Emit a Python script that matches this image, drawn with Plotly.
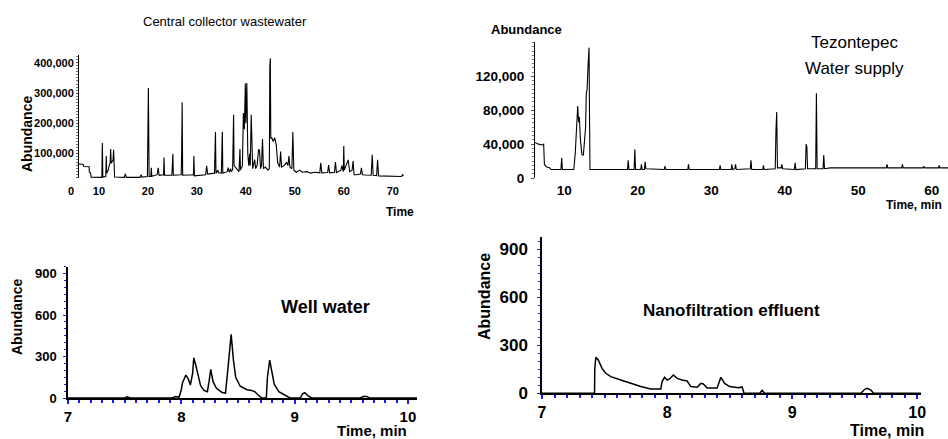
import plotly.graph_objects as go

W, H = 948, 439

# ---------------- data ----------------
# Panel 1: Central collector wastewater (time in min, abundance)
ccw_time = [5.7, 6.8, 6.9, 8.0, 8.05, 8.3, 8.4, 10.6, 10.7, 10.8, 11.4, 11.5, 11.6, 11.9, 12.1, 12.3, 12.4,
            12.5, 12.8, 12.9, 13.0, 13.1, 13.2, 15.2, 15.4, 15.6, 18.4, 18.6, 18.8, 19.9, 20.0, 20.1, 20.25,
            20.6, 20.7, 20.8, 21.9, 22.1, 22.3, 23.2, 23.3, 23.4, 24.9, 25.1, 25.2, 26.8, 26.9, 27.0, 27.1,
            29.3, 29.4, 29.5, 31.8, 32.0, 32.2, 33.6, 33.8, 33.9, 34.3, 34.4, 35.0, 35.2, 35.3, 36.2, 36.4,
            36.6, 36.9, 37.0, 37.3, 37.5, 37.6, 38.6, 38.8, 38.9, 39.3, 39.5, 39.7, 39.9, 40.0, 40.2, 40.4,
            40.6, 40.8, 40.9, 41.1, 41.2, 41.4, 41.8, 42.0, 42.3, 42.6, 42.8, 43.0, 43.2, 43.4, 43.6, 44.0,
            44.5, 44.8, 44.9, 45.0, 45.1, 45.3, 45.6, 45.9, 46.2, 46.5, 46.9, 47.1, 47.3, 47.8, 48.3, 48.6,
            48.8, 49.0, 49.4, 49.6, 49.8, 50.3, 51.0, 51.5, 52.5, 53.2, 54.0, 55.1, 55.3, 55.5, 56.7, 56.9,
            57.1, 58.1, 58.3, 58.5, 59.4, 59.6, 59.9, 60.0, 60.1, 60.5, 60.9, 61.2, 61.7, 61.9, 62.1, 62.6,
            63.4, 63.6, 63.8, 64.5, 65.6, 65.8, 66.0, 66.7, 66.9, 67.1, 68.0, 70.0, 71.8, 72.0, 72.2]
ccw_abund = [66000, 64000, 57000, 56000, 38000, 36000, 22000, 21000, 135000, 22000, 24000, 92000, 35000,
             45000, 60000, 70000, 115000, 68000, 75000, 80000, 112000, 85000, 22000, 21000, 33000, 21000,
             21000, 30000, 22000, 24000, 200000, 317000, 24000, 25000, 53000, 25000, 30000, 53000, 28000,
             30000, 87000, 28000, 28000, 99000, 28000, 30000, 105000, 270000, 28000, 30000, 92000, 26000,
             30000, 59000, 32000, 35000, 171000, 35000, 45000, 36000, 35000, 172000, 35000, 40000, 53000,
             38000, 50000, 40000, 45000, 228000, 60000, 40000, 115000, 45000, 60000, 234000, 180000,
             332000, 200000, 333000, 100000, 60000, 100000, 60000, 228000, 180000, 50000, 80000, 50000,
             60000, 114000, 110000, 50000, 60000, 148000, 50000, 55000, 45000, 50000, 390000, 415000,
             150000, 152000, 140000, 152000, 130000, 70000, 55000, 107000, 55000, 60000, 70000, 60000,
             92000, 55000, 50000, 171000, 45000, 38000, 45000, 38000, 40000, 35000, 38000, 36000, 69000,
             36000, 37000, 62000, 36000, 38000, 72000, 37000, 45000, 60000, 40000, 125000, 45000, 60000,
             79000, 40000, 45000, 75000, 30000, 30000, 32000, 53000, 30000, 29000, 28000, 96000, 28000,
             27000, 79000, 26000, 26000, 25000, 24000, 30000, 26000]
ccw_xticks = [4.3, 10, 20, 30, 40, 50, 60, 70]
ccw_xtext = ["0", "10", "20", "30", "40", "50", "60", "70"]
ccw_yticks = [100000, 200000, 300000, 400000]
ccw_ytext = ["100,000", "200,000", "300,000", "400,000"]

# Panel 2: Tezontepec water supply
tez_time = [6.0, 6.5, 7.0, 7.2, 7.3, 7.6, 8.0, 8.2, 9.55, 9.65, 9.75, 11.3, 11.5, 11.7, 11.83, 11.95, 12.05,
            12.2, 12.4, 12.6, 12.7, 12.8, 12.9, 13.0, 13.1, 13.25, 13.37, 13.45, 13.5, 18.6, 18.7, 18.8,
            19.5, 19.6, 19.7, 20.4, 20.5, 20.6, 20.9, 21.0, 21.1, 23.6, 23.7, 23.8, 26.8, 26.9, 27.0, 31.1,
            31.2, 31.3, 32.7, 32.8, 32.9, 33.2, 33.3, 33.4, 35.3, 35.4, 35.5, 37.0, 37.1, 37.2, 38.7, 38.8,
            38.9, 39.0, 39.5, 39.6, 39.7, 41.3, 41.4, 41.5, 42.8, 42.9, 43.0, 43.1, 44.2, 44.3, 44.4, 45.2,
            45.3, 45.4, 46.2, 53.8, 53.9, 54.0, 55.9, 56.0, 56.1, 58.8, 58.9, 59.0, 60.9, 61.0, 61.1, 62.2]
tez_abund = [42000, 40000, 39000, 40000, 16000, 13000, 12000, 10000, 10000, 24000, 10000, 10000, 30000,
             70000, 85000, 66000, 72000, 45000, 28000, 27000, 40000, 50000, 60000, 100000, 104000, 135000,
             154000, 60000, 10000, 10000, 21000, 10000, 10000, 34000, 10000, 10000, 16000, 10000, 10000,
             19000, 11000, 10000, 14000, 10000, 10000, 16000, 10000, 10000, 15000, 10000, 10000, 16000,
             10000, 11000, 16000, 10000, 11000, 21000, 10000, 10000, 15000, 10000, 11000, 57000, 78000,
             12000, 12000, 16000, 11000, 10000, 18000, 10000, 11000, 40000, 37000, 11000, 11000, 100000,
             11000, 11000, 27000, 11000, 12000, 12000, 16000, 12000, 12000, 16000, 12000, 12000, 14000,
             12000, 12000, 15000, 12000, 12000]
tez_xticks = [10, 20, 30, 40, 50, 60]
tez_yticks = [0, 40000, 80000, 120000]
tez_ytext = ["0", "40,000", "80,000", "120,000"]

# Panel 3: Well water
well_time = [7.0, 7.5, 7.52, 7.55, 7.92, 7.95, 7.98, 8.0, 8.01, 8.04, 8.06, 8.08, 8.1, 8.11, 8.13, 8.15, 8.17,
             8.2, 8.23, 8.245, 8.26, 8.28, 8.31, 8.36, 8.39, 8.41, 8.43, 8.44, 8.46, 8.48, 8.52, 8.58, 8.62,
             8.65, 8.68, 8.71, 8.75, 8.76, 8.78, 8.8, 8.82, 8.86, 8.92, 8.96, 9.05, 9.07, 9.09, 9.12, 9.15,
             9.58, 9.61, 9.64, 9.66, 10.08]
well_abund = [0, 0, 8, 0, 0, 10, 5, 60, 108, 166, 140, 94, 180, 291, 230, 150, 90, 55, 46, 120, 207, 118, 70,
              40, 36, 200, 400, 460, 274, 150, 85, 60, 55, 45, 20, 0, 0, 150, 274, 180, 100, 45, 15, 0, 0, 30,
              38, 15, 0, 0, 12, 10, 0, 0]

# Panel 4: Nanofiltration effluent
nano_time = [7.0, 7.42, 7.422, 7.43, 7.45, 7.48, 7.51, 7.55, 7.63, 7.71, 7.79, 7.87, 7.95, 7.96, 7.98, 8.0,
             8.02, 8.05, 8.08, 8.12, 8.16, 8.19, 8.24, 8.27, 8.29, 8.32, 8.40, 8.43, 8.46, 8.5, 8.57, 8.6,
             8.615, 8.74, 8.76, 8.78, 9.55, 9.58, 9.6, 9.63, 9.65, 10.03]
nano_abund = [0, 0, 150, 225, 208, 156, 125, 104, 83, 62, 42, 27, 27, 73, 100, 83, 90, 114, 93, 83, 77, 42,
              38, 62, 58, 33, 33, 100, 62, 42, 35, 40, 0, 0, 18, 0, 0, 25, 31, 20, 0, 0]

min_ticks = [7, 8, 9, 10]
abund_ticks = [0, 300, 600, 900]

# ---------------- styling ----------------
ARIAL = "Liberation Sans, Arial, Helvetica, sans-serif"
BLUE = "#1a1aff"


def px(x):
    return x / W


def py(y):
    return 1 - y / H


fig = go.Figure()
fig.add_trace(go.Scatter(x=ccw_time, y=ccw_abund, mode="lines", line=dict(color="black", width=1.1),
                         xaxis="x", yaxis="y", showlegend=False, hoverinfo="skip"))
fig.add_trace(go.Scatter(x=tez_time, y=tez_abund, mode="lines", line=dict(color="black", width=1.1),
                         xaxis="x2", yaxis="y2", showlegend=False, hoverinfo="skip"))
fig.add_trace(go.Scatter(x=well_time, y=well_abund, mode="lines", line=dict(color="black", width=1.5),
                         xaxis="x3", yaxis="y3", showlegend=False, hoverinfo="skip"))
fig.add_trace(go.Scatter(x=nano_time, y=nano_abund, mode="lines", line=dict(color="black", width=1.5),
                         xaxis="x4", yaxis="y4", showlegend=False, hoverinfo="skip"))

common = dict(showgrid=False, zeroline=False, fixedrange=True, automargin=False)


def tf(size):
    return dict(family=ARIAL, size=size, color="black", weight="bold")


fig.update_layout(
    width=W, height=H, margin=dict(l=0, r=0, t=0, b=0, pad=0, autoexpand=False),
    paper_bgcolor="white", plot_bgcolor="white", showlegend=False,
    # panel 1
    xaxis=dict(domain=[px(71), px(405)], range=[4.3, 72.5], anchor="y", showline=False, ticks="",
               tickvals=ccw_xticks, ticktext=ccw_xtext, ticklabelstandoff=5, tickfont=tf(11), **common),
    yaxis=dict(domain=[py(178), py(55)], range=[19000, 426000], anchor="free", position=px(78),
               showline=True, linecolor="black", linewidth=1, ticks="outside", ticklen=2, tickcolor="#555",
               tickvals=ccw_yticks, ticktext=ccw_ytext, ticklabelstandoff=0,
               minor=dict(dtick=10000, ticks="outside", ticklen=2, tickcolor="#777"),
               tickfont=tf(11), **common),
    # panel 2
    xaxis2=dict(domain=[px(535), 1.0], range=[6.02, 62.2], anchor="y2", showline=False, ticks="",
                tickvals=tez_xticks, ticklabelstandoff=2, tickfont=tf(13.5), **common),
    yaxis2=dict(domain=[py(178), py(41.7)], range=[0, 161000], anchor="x2",
                showline=True, linecolor="black", linewidth=1, ticks="outside", ticklen=3, tickcolor="#555",
                tickvals=tez_yticks, ticktext=tez_ytext, ticklabelstandoff=4,
                minor=dict(dtick=5000, ticks="outside", ticklen=2, tickcolor="#777"),
                tickfont=tf(13.5), **common),
    # panel 3
    xaxis3=dict(domain=[px(68), px(417)], range=[7, 10.08], anchor="y3", showline=True, linecolor="black",
                linewidth=1.5, ticks="outside", ticklen=4, tickcolor=BLUE, tickwidth=1.5,
                tickvals=min_ticks, ticklabelstandoff=0,
                minor=dict(dtick=0.1, ticks="outside", ticklen=3, tickcolor=BLUE),
                tickfont=tf(15), **common),
    yaxis3=dict(domain=[py(398), py(266.7)], range=[0, 950], anchor="x3", showline=True, linecolor="black",
                linewidth=1.5, ticks="outside", ticklen=3, tickcolor=BLUE, tickvals=abund_ticks,
                ticklabelstandoff=4,
                minor=dict(dtick=50, ticks="outside", ticklen=2, tickcolor=BLUE),
                tickfont=tf(13), **common),
    # panel 4
    xaxis4=dict(domain=[px(542), px(921)], range=[7, 10.03], anchor="y4", showline=True, linecolor="black",
                linewidth=1.5, ticks="outside", ticklen=4, tickcolor=BLUE, tickwidth=1.5,
                tickvals=min_ticks, ticklabelstandoff=0,
                minor=dict(dtick=0.1, ticks="outside", ticklen=3, tickcolor=BLUE),
                tickfont=tf(16), **common),
    yaxis4=dict(domain=[py(393.3), py(236.7)], range=[0, 979], anchor="x4", showline=True, linecolor="black",
                linewidth=1.5, ticks="outside", ticklen=3, tickcolor=BLUE, tickvals=abund_ticks,
                ticklabelstandoff=6,
                minor=dict(dtick=50, ticks="outside", ticklen=2, tickcolor=BLUE),
                tickfont=tf(17), **common),
)


def note(text, x, y, size, bold=False, angle=0):
    fig.add_annotation(text=f"<b>{text}</b>" if bold else text, x=px(x), y=py(y), xref="paper", yref="paper",
                       showarrow=False, xanchor="center", yanchor="middle", textangle=angle,
                       font=dict(family=ARIAL, size=size, color="black"))


note("Central collector wastewater", 225, 22, 13)
note("Abundance", 27, 134, 14, bold=True, angle=-90)
note("Time", 400, 212, 12, bold=True)
note("Abundance", 526, 29, 13, bold=True)
note("Tezontepec", 854, 42, 17)
note("Water supply", 854, 68, 17)
note("Time, min", 914, 205, 12, bold=True)
note("Well water", 325, 307, 18, bold=True)
note("Abundance", 17, 317, 14, bold=True, angle=-90)
note("Time, min", 372, 430, 15, bold=True)
note("Nanofiltration effluent", 731, 310, 17, bold=True)
note("Abundance", 484, 297, 16, bold=True, angle=-90)
note("Time, min", 887, 430, 16, bold=True)

fig.write_html("out.html", config={"displayModeBar": False},
               post_script="document.body.style.margin='0';document.documentElement.style.overflow='hidden';")
